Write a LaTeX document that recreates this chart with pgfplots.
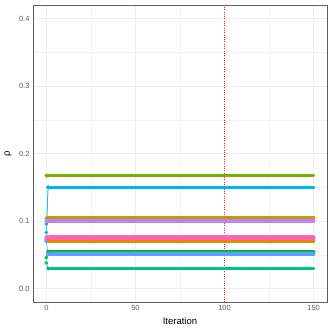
\documentclass[border=0pt]{standalone}
\usepackage{pgfplots}
\pgfplotsset{compat=1.18}
\usepackage{fontspec}
\setmainfont{Liberation Sans}

\definecolor{c1}{HTML}{F8766D}
\definecolor{c2}{HTML}{DE8C00}
\definecolor{c3}{HTML}{B79F00}
\definecolor{c4}{HTML}{7CAE00}
\definecolor{c5}{HTML}{00BA38}
\definecolor{c6}{HTML}{00C08B}
\definecolor{c7}{HTML}{00BFC4}
\definecolor{c8}{HTML}{00B4F0}
\definecolor{c9}{HTML}{619CFF}
\definecolor{c10}{HTML}{C77CFF}
\definecolor{c11}{HTML}{F564E3}
\definecolor{c12}{HTML}{FF64B0}

\pgfplotsset{
  start/.style={#1, line width=0.5pt, mark=*, mark size=1.7pt, mark options={solid}},
  run/.style={#1, line width=3.6pt, line cap=round},
}

\begin{document}
\begin{tikzpicture}
\useasboundingbox (-33pt,-30pt) rectangle (299pt,302pt);
\begin{axis}[
  at={(0,0)}, anchor=south west,
  scale only axis, width=294pt, height=297pt,
  xmin=-7.5, xmax=157.5, ymin=-0.02, ymax=0.42,
  xtick={0,50,100,150}, ytick={0,0.1,0.2,0.3,0.4},
  minor xtick={25,75,125}, minor ytick={0.05,0.15,0.25,0.35},
  grid=both,
  major grid style={color=gray!14, line width=0.5pt},
  minor grid style={color=gray!9, line width=0.35pt},
  axis line style={gray!75!black, line width=0.9pt},
  tick style={draw=none},
  /pgf/number format/assume math mode=true,
  ticklabel style={font=\fontsize{7.5}{9}\selectfont, text=gray!75!black},
  yticklabel style={/pgf/number format/.cd, fixed, fixed zerofill, precision=1},
  xlabel={Iteration}, ylabel={ρ},
  label style={font=\fontsize{9.5}{11}\selectfont},
  xlabel style={at={(axis description cs:0.5,-0.066)}, anchor=center},
  ylabel style={at={(axis description cs:-0.085,0.5)}, anchor=center},
]
\addplot[red!85, line width=0.45pt, dash pattern=on 0.6pt off 1.7pt] coordinates {(100,-0.02) (100,0.42)};

\addplot[start=c1] coordinates {(0,0.0725) (1,0.0725)};
\addplot[run=c1] coordinates {(1,0.0725) (150,0.0725)};
\addplot[start=c2] coordinates {(0,0.0707) (1,0.0707)};
\addplot[run=c2] coordinates {(1,0.0707) (150,0.0707)};
\addplot[start=c3] coordinates {(0,0.1041) (1,0.1041)};
\addplot[run=c3] coordinates {(1,0.1041) (150,0.1041)};
\addplot[start=c4] coordinates {(0,0.1672) (1,0.1672)};
\addplot[run=c4] coordinates {(1,0.1672) (150,0.1672)};
\addplot[start=c5] coordinates {(0,0.046) (1,0.0543)};
\addplot[run=c5] coordinates {(1,0.0543) (150,0.0543)};
\addplot[start=c6] coordinates {(0,0.038) (1,0.0295)};
\addplot[run=c6] coordinates {(1,0.0295) (150,0.0295)};
\addplot[start=c7] coordinates {(0,0.083) (1,0.1499)};
\addplot[run=c7] coordinates {(1,0.1499) (150,0.1499)};
\addplot[start=c8] coordinates {(0,0.0955) (1,0.1499)};
\addplot[run=c8] coordinates {(1,0.1499) (150,0.1499)};
\addplot[start=c9] coordinates {(0,0.070) (1,0.0513)};
\addplot[run=c9] coordinates {(1,0.0513) (150,0.0513)};
\addplot[start=c10] coordinates {(0,0.1001) (1,0.1001)};
\addplot[run=c10] coordinates {(1,0.1001) (150,0.1001)};
\addplot[start=c11] coordinates {(0,0.0765) (1,0.0765)};
\addplot[run=c11] coordinates {(1,0.0765) (150,0.0765)};
\addplot[start=c12] coordinates {(0,0.0750) (1,0.0750)};
\addplot[run=c12] coordinates {(1,0.0750) (150,0.0750)};
\end{axis}
\end{tikzpicture}
\end{document}
